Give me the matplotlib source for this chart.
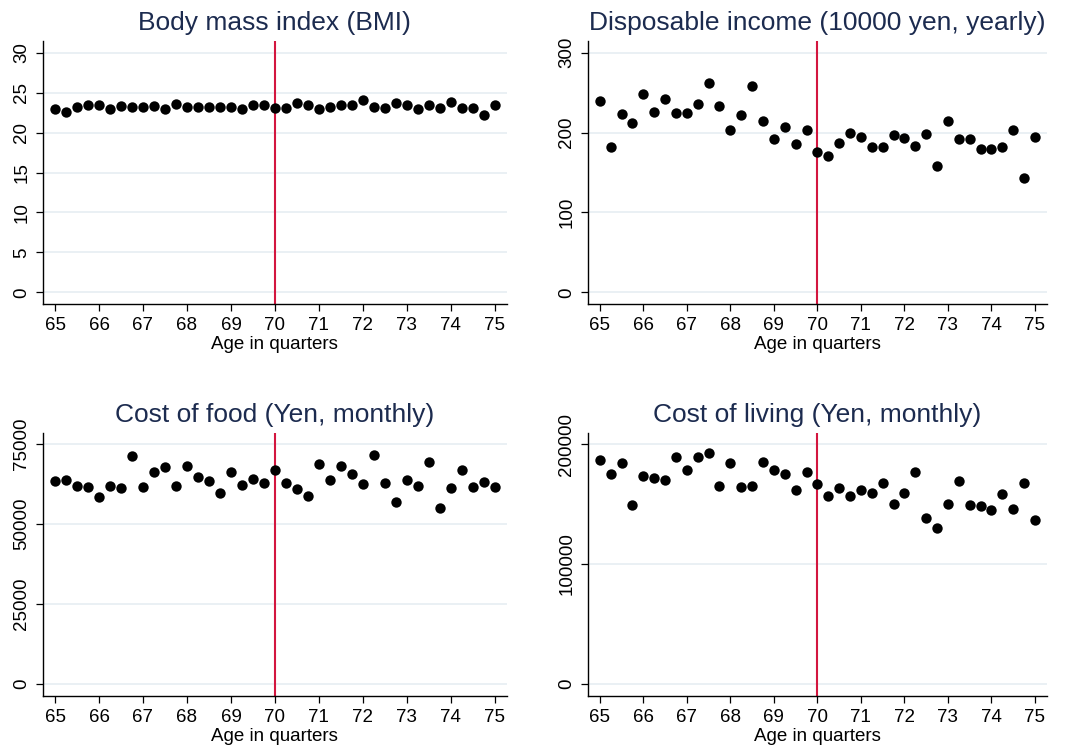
import matplotlib
matplotlib.use("Agg")
import matplotlib.pyplot as plt
import numpy as np

plt.rcParams['font.family'] = ['Liberation Sans', 'DejaVu Sans']

age = [65 + 0.25 * i for i in range(41)]

bmi = [22.9, 22.6, 23.2, 23.4, 23.5, 23.0, 23.3, 23.2, 23.2, 23.3, 23.0, 23.6, 23.2, 23.2, 23.2, 23.2,
       23.2, 22.9, 23.5, 23.5, 23.1, 23.1, 23.7, 23.4, 23.0, 23.2, 23.4, 23.5, 24.1, 23.2, 23.1, 23.7,
       23.4, 23.0, 23.5, 23.1, 23.8, 23.1, 23.1, 22.2, 23.4]

income = [239.5, 181.9, 222.8, 212.3, 248.2, 225.3, 242.4, 224.0, 224.0, 236.1, 262.4, 232.8, 203.2,
          221.9, 258.2, 214.0, 192.3, 206.9, 185.6, 202.8, 175.2, 171.0, 186.9, 199.0, 194.4, 181.9,
          181.9, 196.9, 193.6, 182.7, 198.6, 158.1, 214.9, 191.5, 191.5, 179.0, 179.8, 181.5, 203.2,
          143.1, 194.4]

food = [63500, 63750, 61900, 61600, 58500, 62000, 61250, 71250, 61700, 66250, 67700, 61900, 68200,
        64700, 63400, 59700, 66350, 62200, 64100, 62700, 66900, 62800, 60900, 58850, 68750, 63600,
        68000, 65700, 62400, 71600, 62900, 56900, 63600, 61800, 69300, 55100, 61100, 66900, 61500,
        63000, 61600]

living = [186400, 174700, 184400, 149400, 173600, 171900, 170300, 188900, 178600, 188900, 192500,
          164700, 183900, 163900, 165300, 185300, 178100, 175000, 161400, 176900, 166700, 156400,
          163600, 156900, 161900, 159200, 167500, 150300, 159200, 176900, 138100, 130000, 150300,
          169200, 149200, 148300, 145300, 158300, 146100, 167500, 136400]

titles = ["Body mass index (BMI)", "Disposable income (10000 yen, yearly)",
          "Cost of food (Yen, monthly)", "Cost of living (Yen, monthly)"]
series = [bmi, income, food, living]
yticks = [[0, 5, 10, 15, 20, 25, 30], [0, 100, 200, 300], [0, 25000, 50000, 75000], [0, 100000, 200000]]
ylims = [(-1.46, 31.5), (-14.6, 315), (-3750, 78500), (-10000, 209400)]
xticks = list(range(65, 76))
cutoff = 70

fig = plt.figure(figsize=(10.65, 7.54), dpi=100)
positions = [
    [0.0401, 0.5968, 0.4357, 0.3492],
    [0.5518, 0.5968, 0.4310, 0.3492],
    [0.0401, 0.0769, 0.4357, 0.3492],
    [0.5518, 0.0769, 0.4310, 0.3492],
]

title_color = '#1c2b4f'
for pos, title, vals, yt, yl in zip(positions, titles, series, yticks, ylims):
    ax = fig.add_axes(pos)
    ax.set_xlim(64.72, 75.27)
    ax.set_ylim(*yl)
    for t in yt:
        ax.axhline(t, color='#e6eef2', linewidth=1.2, zorder=0)
    ax.axvline(cutoff, color='#d3163f', linewidth=1.5, zorder=2)
    ax.scatter(age, vals, s=56, color='black', zorder=3, linewidths=0)
    ax.set_xticks(xticks)
    ax.set_yticks(yt)
    ax.set_yticklabels([str(t) for t in yt], rotation=90, va='center')
    ax.tick_params(axis='both', direction='out', length=5, width=0.9, labelsize=13.5, colors='black', pad=4)
    ax.spines['top'].set_visible(False)
    ax.spines['right'].set_visible(False)
    ax.spines['left'].set_linewidth(1.0)
    ax.spines['bottom'].set_linewidth(1.0)
    ax.set_xlabel("Age in quarters", fontsize=13.5, labelpad=2)
    ax.set_title(title, fontsize=19, color=title_color, pad=8)

fig.savefig("out.png", dpi=100)
